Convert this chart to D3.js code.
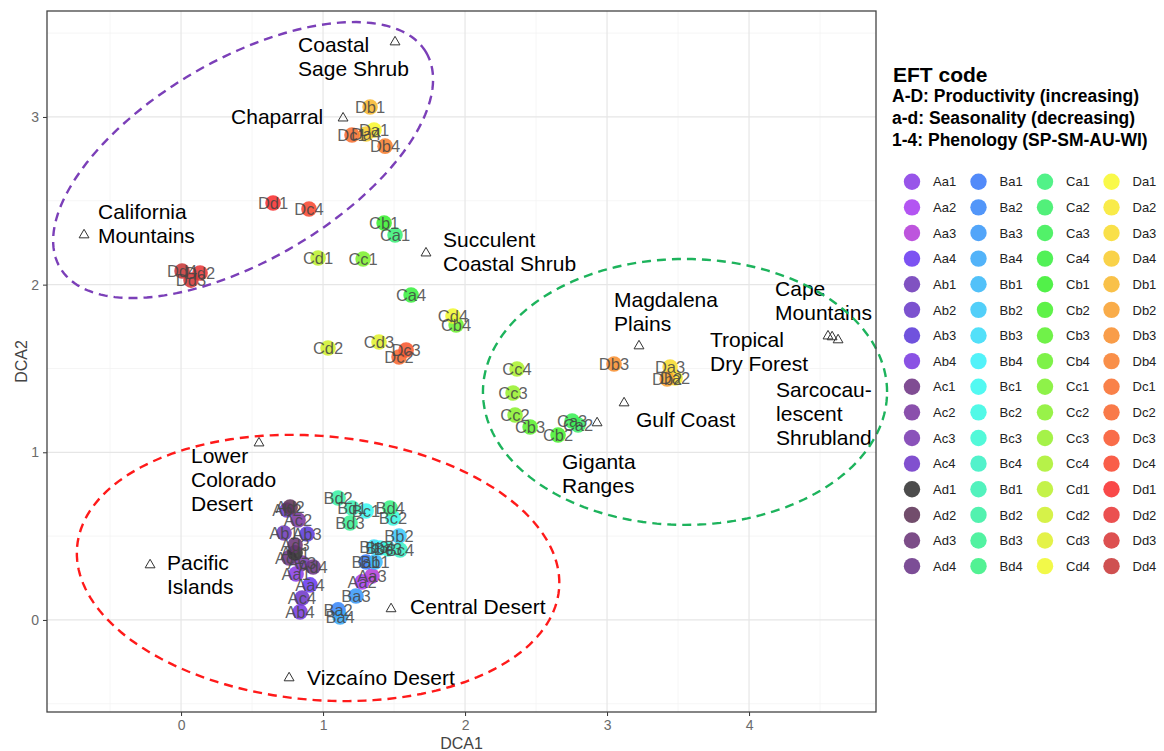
<!DOCTYPE html>
<html>
<head>
<meta charset="utf-8">
<script src="https://cdn.jsdelivr.net/npm/d3@7"></script>
<style>
  body { margin: 0; background: #fff; }
  text { font-family: "Liberation Sans", Arial, sans-serif; }
</style>
</head>
<body>
<svg id="chart" width="1164" height="751"></svg>
<script>
// EFT codes, legend order (column by column)
const efts = [
  'Aa1','Aa2','Aa3','Aa4','Ab1','Ab2','Ab3','Ab4','Ac1','Ac2','Ac3','Ac4','Ad1','Ad2','Ad3','Ad4',
  'Ba1','Ba2','Ba3','Ba4','Bb1','Bb2','Bb3','Bb4','Bc1','Bc2','Bc3','Bc4','Bd1','Bd2','Bd3','Bd4',
  'Ca1','Ca2','Ca3','Ca4','Cb1','Cb2','Cb3','Cb4','Cc1','Cc2','Cc3','Cc4','Cd1','Cd2','Cd3','Cd4',
  'Da1','Da2','Da3','Da4','Db1','Db2','Db3','Db4','Dc1','Dc2','Dc3','Dc4','Dd1','Dd2','Dd3','Dd4'
];
const dca1 = [
  0.810, 1.275, 1.345, 0.908, 0.725, 0.746, 0.887, 0.838, 0.761, 0.824, 0.852, 0.852, 0.803, 0.768, 0.803, 0.930,
  1.303, 1.106, 1.232, 1.120, 1.366, 1.535, 1.359, 1.401, 1.303, 1.493, 1.458, 1.542, 1.204, 1.106, 1.190, 1.472,
  1.507, 2.796, 2.754, 1.620, 1.430, 2.655, 2.458, 1.937, 1.282, 2.352, 2.338, 2.366, 0.965, 1.035, 1.394, 1.915,
  1.359, 3.479, 3.444, 1.303, 1.331, 3.423, 3.049, 1.437, 1.204, 1.535, 1.585, 0.901, 0.648, 0.134, 0.070, 0.007
];
const dca2 = [
  0.274, 0.227, 0.262, 0.209, 0.519, 0.656, 0.513, 0.048, 0.370, 0.596, 0.340, 0.131, 0.400, 0.674, 0.447, 0.316,
  0.346, 0.060, 0.143, 0.018, 0.346, 0.501, 0.435, 0.429, 0.650, 0.608, 0.423, 0.417, 0.668, 0.727, 0.578, 0.668,
  2.296, 1.163, 1.187, 1.938, 2.367, 1.103, 1.151, 1.759, 2.153, 1.222, 1.354, 1.497, 2.159, 1.622, 1.658, 1.813,
  2.922, 1.443, 1.509, 2.898, 3.059, 1.437, 1.527, 2.826, 2.892, 1.568, 1.610, 2.451, 2.487, 2.069, 2.027, 2.081
];
const palette = [
  '#8a3ee6','#a83ef0','#b43ed8','#6a3af0','#6e3ab8','#6a3ac8','#5c3ad8','#7a3ae0','#6e3484','#7a38a0','#7a3ab0','#7038c8','#333333','#5e3458','#6a3478','#6a3488',
  '#3a7af8','#3a88f8','#3a98f8','#3aa8f8','#3ab8f8','#3ac8f8','#3adcf8','#3af0f8','#3af8f0','#3af8e4','#3af8d4','#3af0c4','#3af0b4','#3af0a4','#3af094','#3af084',
  '#3af078','#3aee68','#3aef54','#3aef40','#3aef30','#48f030','#5cf030','#6cf030','#7ef030','#8af030','#98f030','#acf030','#bcf030','#d0f030','#e0f030','#f0f830',
  '#f8f830','#f8e830','#f8dc30','#f8cc30','#f8b830','#f8a030','#f89030','#f88030','#f87030','#f86830','#f85830','#f84830','#f83030','#e83838','#d83838','#c83838'
];

// region (ecoregion) centroids
const regionNames = ['Coastal Sage Shrub','Chaparral','California Mountains','Succulent Coastal Shrub',
  'Magdalena Plains','Cape Mountains','Tropical Dry Forest','Sarcocaulescent Shrubland','Gulf Coast',
  'Giganta Ranges','Lower Colorado Desert','Pacific Islands','Central Desert','Vizcaíno Desert'];
const regionX = [1.507, 1.141, -0.683, 1.725, 3.225, 4.556, 4.585, 4.627, 3.120, 2.930, 0.549, -0.218, 1.479, 0.761];
const regionY = [3.447, 2.993, 2.296, 2.188, 1.634, 1.693, 1.688, 1.670, 1.294, 1.175, 1.055, 0.328, 0.066, -0.346];
// annotation text lines and their anchor (data units, first line)
const labelLines = [['Coastal','Sage Shrub'],['Chaparral'],['California','Mountains'],['Succulent','Coastal Shrub'],
  ['Magdalena','Plains'],['Cape','Mountains'],['Tropical','Dry Forest'],['Sarcocau-','lescent','Shrubland'],['Gulf Coast'],
  ['Giganta','Ranges'],['Lower','Colorado','Desert'],['Pacific','Islands'],['Central Desert'],['Vizcaíno Desert']];
const labelX = [0.824, 0.352, -0.585, 1.845, 3.049, 4.183, 3.725, 4.190, 3.204, 2.683, 0.070, -0.099, 1.613, 0.887];
const labelY = [3.429, 2.999, 2.433, 2.266, 1.908, 1.974, 1.670, 1.372, 1.193, 0.942, 0.978, 0.340, 0.078, -0.346];

// ellipses: centre and two conjugate semi-axis vectors (data units)
const ellipseColors = ['#7b3fb8', '#ff1a1a', '#1db35c'];
const ellipseCentre = [[0.437, 2.743], [0.965, 0.310], [3.549, 1.360]];
const ellipseAxisA = [[1.289, 0.642], [1.697, -0.126], [1.423, 0]];
const ellipseAxisB = [[-0.358, 0.515], [-0.081, -0.784], [0, 0.793]];

const xTicks = [0, 1, 2, 3, 4];
const yTicks = [0, 1, 2, 3];

const svg = d3.select('#chart');
const margin = { left: 47, right: 288, top: 11, bottom: 39 };
const W = 1164, H = 751;

const x = d3.scaleLinear().domain([-0.944, 4.894]).range([margin.left, W - margin.right]);
const y = d3.scaleLinear().domain([-0.549, 3.632]).range([H - margin.bottom, margin.top]);

const panel = svg.append('g');
panel.append('rect')
  .attr('x', x.range()[0]).attr('y', y.range()[1])
  .attr('width', x.range()[1] - x.range()[0])
  .attr('height', y.range()[0] - y.range()[1])
  .attr('fill', '#fff');

// minor grid
const xMinor = d3.range(-0.5, 4.9, 1);
const yMinor = d3.range(-0.5, 3.6, 1);
panel.selectAll('.xminor').data(xMinor).join('line')
  .attr('x1', d => x(d)).attr('x2', d => x(d))
  .attr('y1', y.range()[0]).attr('y2', y.range()[1])
  .attr('stroke', '#f2f2f2').attr('stroke-width', 0.8);
panel.selectAll('.yminor').data(yMinor).join('line')
  .attr('y1', d => y(d)).attr('y2', d => y(d))
  .attr('x1', x.range()[0]).attr('x2', x.range()[1])
  .attr('stroke', '#f2f2f2').attr('stroke-width', 0.8);
// major grid
panel.selectAll('.xmajor').data(xTicks).join('line')
  .attr('x1', d => x(d)).attr('x2', d => x(d))
  .attr('y1', y.range()[0]).attr('y2', y.range()[1])
  .attr('stroke', '#e6e6e6').attr('stroke-width', 1.2);
panel.selectAll('.ymajor').data(yTicks).join('line')
  .attr('y1', d => y(d)).attr('y2', d => y(d))
  .attr('x1', x.range()[0]).attr('x2', x.range()[1])
  .attr('stroke', '#e6e6e6').attr('stroke-width', 1.2);

// axes
const xAxis = svg.append('g')
  .attr('transform', `translate(0,${y.range()[0]})`)
  .call(d3.axisBottom(x).tickValues(xTicks).tickFormat(d3.format('d')).tickSizeOuter(0).tickSize(4).tickPadding(4));
const yAxis = svg.append('g')
  .attr('transform', `translate(${x.range()[0]},0)`)
  .call(d3.axisLeft(y).tickValues(yTicks).tickFormat(d3.format('d')).tickSizeOuter(0).tickSize(4).tickPadding(4));
[xAxis, yAxis].forEach(a => {
  a.select('.domain').remove();
  a.selectAll('.tick line').attr('stroke', '#333');
  a.selectAll('.tick text').attr('fill', '#6b6b6b').style('font-size', '14px')
    .style('font-family', '"Liberation Sans", Arial, sans-serif');
});

svg.append('text').attr('x', (x.range()[0] + x.range()[1]) / 2).attr('y', 749)
  .attr('text-anchor', 'middle').attr('fill', '#444').style('font-size', '16px').text('DCA1');
svg.append('text').attr('transform', `translate(21,${(y.range()[0] + y.range()[1]) / 2}) rotate(-90)`)
  .attr('text-anchor', 'middle').attr('dy', '0.35em').attr('fill', '#444').style('font-size', '16px').text('DCA2');

// points
const idx = d3.range(efts.length);
const colour = d3.scaleOrdinal().domain(efts).range(palette);

svg.append('g').selectAll('circle').data(idx).join('circle')
  .attr('cx', i => x(dca1[i])).attr('cy', i => y(dca2[i]))
  .attr('r', 7.8)
  .attr('fill', i => colour(efts[i]))
  .attr('fill-opacity', 0.88);

svg.append('g').selectAll('text').data(idx).join('text')
  .attr('x', i => x(dca1[i])).attr('y', i => y(dca2[i]))
  .attr('text-anchor', 'middle').attr('dy', '0.36em')
  .attr('fill', '#444').attr('fill-opacity', 0.85)
  .style('font-size', '16.5px')
  .text(i => efts[i]);

// region centroids
const triangle = d3.symbol().type(d3.symbolTriangle).size(42);
svg.append('g').selectAll('path').data(regionNames).join('path')
  .attr('d', triangle)
  .attr('transform', (d, i) => `translate(${x(regionX[i])},${y(regionY[i])})`)
  .attr('fill', 'none').attr('stroke', '#333').attr('stroke-width', 1);

const regionLabels = svg.append('g').selectAll('text').data(regionNames).join('text')
  .attr('x', (d, i) => x(labelX[i])).attr('y', (d, i) => y(labelY[i]))
  .attr('fill', '#000').style('font-size', '21px');
regionLabels.each(function (d, i) {
  const t = d3.select(this);
  labelLines[i].forEach((line, k) => {
    t.append('tspan').attr('x', x(labelX[i])).attr('dy', k === 0 ? '0.35em' : '1.13em').text(line);
  });
});

// ellipses
const tSteps = d3.range(0, 2 * Math.PI + 0.001, Math.PI / 90);
const ellipseLine = d3.line().x(p => x(p[0])).y(p => y(p[1]));
ellipseColors.forEach((c, e) => {
  const [cx, cy] = ellipseCentre[e];
  const A = ellipseAxisA[e], B = ellipseAxisB[e];
  const pts = tSteps.map(t => [cx + A[0] * Math.cos(t) + B[0] * Math.sin(t),
                               cy + A[1] * Math.cos(t) + B[1] * Math.sin(t)]);
  svg.append('path').attr('d', ellipseLine(pts))
    .attr('fill', 'none').attr('stroke', c).attr('stroke-width', 2.4)
    .attr('stroke-dasharray', '9,6');
});

// panel border
svg.append('rect')
  .attr('x', x.range()[0]).attr('y', y.range()[1])
  .attr('width', x.range()[1] - x.range()[0])
  .attr('height', y.range()[0] - y.range()[1])
  .attr('fill', 'none').attr('stroke', '#444').attr('stroke-width', 1.3);

// legend
const legend = svg.append('g');
legend.append('text').attr('x', 893).attr('y', 75).attr('dy', '0.35em')
  .style('font-size', '21px').style('font-weight', 'bold').text('EFT code');
const legendNotes = ['A-D: Productivity (increasing)', 'a-d: Seasonality (decreasing)', '1-4: Phenology (SP-SM-AU-WI)'];
legend.selectAll('.note').data(legendNotes).join('text')
  .attr('x', 892).attr('y', (d, i) => 96 + i * 21.7).attr('dy', '0.35em')
  .style('font-size', '17.5px').style('font-weight', 'bold').text(d => d);

const key = legend.selectAll('.key').data(idx).join('g')
  .attr('transform', i => `translate(${912 + Math.floor(i / 16) * 66.5},${181.7 + (i % 16) * 25.63})`);
key.append('circle').attr('r', 8.2).attr('fill', i => colour(efts[i])).attr('fill-opacity', 0.88);
key.append('text').attr('x', 21).attr('dy', '0.36em').style('font-size', '13px').attr('fill', '#222')
  .text(i => efts[i]);
</script>
</body>
</html>
